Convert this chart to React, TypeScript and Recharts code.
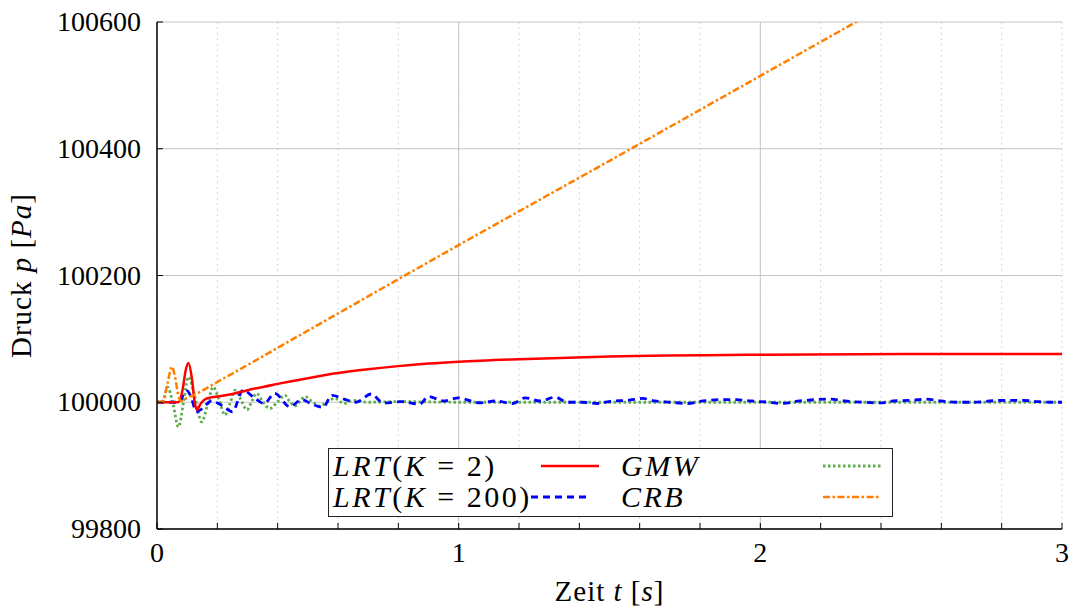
import React from "react";
import {
  CartesianGrid,
  Legend,
  Line,
  LineChart,
  ReferenceLine,
  XAxis,
  YAxis,
} from "recharts";

// x axis: ticks every 0.2 s, labels only on whole seconds
const xTicks = [0, 0.2, 0.4, 0.6, 0.8, 1, 1.2, 1.4, 1.6, 1.8, 2, 2.2, 2.4, 2.6, 2.8, 3];
const xMajor = [1, 2];
const yTicks = [99800, 100000, 100200, 100400, 100600];

// LRT(K = 2) — green dotted
const lrt2T = [0, 0.02, 0.035, 0.052, 0.071, 0.088, 0.104, 0.126, 0.148, 0.167, 0.186, 0.205, 0.225, 0.242, 0.259, 0.278, 0.298, 0.315, 0.33, 0.352, 0.374, 0.4, 0.424, 0.44, 0.457, 0.475, 0.49, 0.515, 0.54, 0.565, 0.59, 0.62, 0.65, 0.7, 0.8, 1.0, 1.5, 2.0, 2.5, 3.0];
const lrt2P = [100000, 100002, 100024, 100000, 99961, 100000, 100040, 100008, 99969, 99995, 100024, 100005, 99980, 99998, 100019, 100004, 99988, 100002, 100014, 100000, 99990, 100001, 100011, 100001, 99994, 100002, 100009, 100001, 99994, 100001, 100006, 99998, 100003, 100000, 100001, 100000, 100000, 100000, 100000, 100000];

// LRT(K = 200) — blue dashed
const lrt200T = [0, 0.075, 0.09, 0.1, 0.115, 0.13, 0.15, 0.18, 0.215, 0.25, 0.285, 0.32, 0.355, 0.39, 0.44, 0.48, 0.51, 0.55, 0.58, 0.62, 0.66, 0.71, 0.75, 0.81, 0.87, 0.9, 0.95, 1.0, 1.04, 1.07, 1.12, 1.18, 1.22, 1.27, 1.32, 1.36, 1.41, 1.46, 1.51, 1.56, 1.61, 1.65, 1.7, 1.76, 1.81, 1.86, 1.92, 1.97, 2.03, 2.07, 2.13, 2.18, 2.23, 2.28, 2.34, 2.4, 2.44, 2.5, 2.55, 2.6, 2.65, 2.71, 2.76, 2.81, 2.87, 2.92, 2.97, 3.0];
const lrt200P = [100000, 100000, 100015, 100018, 100005, 99985, 99990, 100002, 99995, 99985, 100019, 100008, 99998, 100014, 99993, 100004, 99998, 99992, 100011, 100005, 100000, 100013, 99999, 100001, 99997, 100009, 100002, 100007, 100002, 99999, 100002, 99998, 100007, 100002, 100008, 100000, 100000, 99998, 100002, 100003, 100006, 100002, 100000, 99998, 100002, 100004, 100004, 100002, 100000, 99998, 100002, 100004, 100005, 100002, 100000, 99999, 100002, 100003, 100005, 100002, 100000, 100000, 100002, 100003, 100003, 100001, 100000, 100000];

// GMW — red solid
const gmwT = [0, 0.07, 0.085, 0.095, 0.104, 0.115, 0.125, 0.132, 0.145, 0.164, 0.2, 0.25, 0.3, 0.4, 0.5, 0.6, 0.7, 0.8, 0.9, 1.0, 1.2, 1.5, 2.0, 2.5, 3.0];
const gmwP = [100000, 100000, 100020, 100050, 100062, 100040, 100000, 99988, 99998, 100006, 100009, 100013, 100019, 100029, 100038, 100046, 100052, 100057, 100061, 100064, 100068, 100072, 100075, 100076, 100076];

// CRB — orange dash-dot
const crbT = [0, 0.02, 0.035, 0.049, 0.06, 0.07, 0.08, 0.1, 0.12, 0.2, 0.5, 1.0, 1.5, 2.0, 2.5, 3.0];
const crbP = [100000, 100002, 100030, 100056, 100040, 100012, 100002, 100007, 100011, 100032, 100113, 100248, 100381, 100515, 100649, 100783];

const toPoints = (ts: number[], ps: number[]) => ts.map((t, i) => ({ t, p: ps[i] }));

const lrt2Data = toPoints(lrt2T, lrt2P);
const lrt200Data = toPoints(lrt200T, lrt200P);
const gmwData = toPoints(gmwT, gmwP);
const crbData = toPoints(crbT, crbP);

const FONT = '"Liberation Serif", "Times New Roman", serif';

const GREEN = "#5fae4d";
const BLUE = "#0000ff";
const RED = "#ff0000";
const ORANGE = "#ff8000";

const BottomTick = (props: any) => {
  const { x, y, payload } = props;
  const v = payload.value as number;
  const whole = Math.abs(v - Math.round(v)) < 1e-6;
  return (
    <g>
      <line x1={x} x2={x} y1={y} y2={y - 6} stroke="#000" strokeWidth={1} />
      {whole && (
        <text x={x} y={y + 33} textAnchor="middle" fontSize={28} fontFamily={FONT} fill="#000">
          {Math.round(v)}
        </text>
      )}
    </g>
  );
};

const TopTick = (props: any) => {
  const { x, y } = props;
  return <line x1={x} x2={x} y1={y} y2={y + 6} stroke="#000" strokeWidth={1} />;
};

const LeftTick = (props: any) => {
  const { x, y, payload } = props;
  return (
    <g>
      <line x1={x} x2={x + 6} y1={y} y2={y} stroke="#000" strokeWidth={1} />
      <text x={x - 16} y={y} dy="0.33em" textAnchor="end" fontSize={28} fontFamily={FONT} fill="#000">
        {payload.value}
      </text>
    </g>
  );
};

const RightTick = (props: any) => {
  const { x, y } = props;
  return <line x1={x} x2={x - 6} y1={y} y2={y} stroke="#000" strokeWidth={1} />;
};

const Sample = ({ color, dash, width }: { color: string; dash?: string; width: number }) => (
  <svg width={58} height={10} style={{ position: "absolute" }}>
    <line x1={0} x2={58} y1={5} y2={5} stroke={color} strokeWidth={width} strokeDasharray={dash} />
  </svg>
);

const LegendBox = () => {
  const row = (top: number): React.CSSProperties => ({
    position: "absolute",
    top,
    lineHeight: "30px",
    letterSpacing: 2.5,
  });
  return (
    <div
      style={{
        position: "relative",
        width: 565,
        height: 69,
        boxSizing: "border-box",
        border: "1.3px solid #222",
        background: "#fff",
        fontFamily: FONT,
        fontSize: 30,
        color: "#000",
        whiteSpace: "nowrap",
      }}
    >
      <div style={{ ...row(2), left: 4 }}>
        <i>LRT</i>(<i>K</i> = 2)
      </div>
      <div style={{ ...row(33), left: 4 }}>
        <i>LRT</i>(<i>K</i> = 200)
      </div>
      <div style={{ position: "absolute", left: 212, top: 12 }}>
        <Sample color={RED} width={2.5} />
      </div>
      <div style={{ position: "absolute", left: 202, top: 43 }}>
        <Sample color={BLUE} width={2.8} dash="7 5" />
      </div>
      <div style={{ ...row(2), left: 292 }}>
        <i>GMW</i>
      </div>
      <div style={{ ...row(33), left: 292 }}>
        <i>CRB</i>
      </div>
      <div style={{ position: "absolute", left: 494, top: 12 }}>
        <Sample color={GREEN} width={2.8} dash="2.5 2.5" />
      </div>
      <div style={{ position: "absolute", left: 494, top: 43 }}>
        <Sample color={ORANGE} width={2.5} dash="7 2.5 2.5 2.5" />
      </div>
    </div>
  );
};

const YTitle = (props: any) => {
  const { viewBox } = props;
  const cy = viewBox.y + viewBox.height / 2;
  const x = 31;
  return (
    <text
      x={x}
      y={cy}
      transform={`rotate(-90, ${x}, ${cy})`}
      textAnchor="middle"
      fontSize={29}
      letterSpacing={1}
      fontFamily={FONT}
      fill="#000"
    >
      Druck <tspan fontStyle="italic">p</tspan> [<tspan fontStyle="italic">Pa</tspan>]
    </text>
  );
};

const XTitle = (props: any) => {
  const { viewBox } = props;
  const cx = viewBox.x + viewBox.width / 2;
  return (
    <text x={cx} y={601} textAnchor="middle" fontSize={29} letterSpacing={1} fontFamily={FONT} fill="#000">
      Zeit <tspan fontStyle="italic">t</tspan> [<tspan fontStyle="italic">s</tspan>]
    </text>
  );
};

export default function App() {
  return (
    <div style={{ position: "absolute", left: 0, top: 0, width: 1075, height: 610, background: "#fff" }}>
      <LineChart width={1075} height={610} margin={{ top: 22, right: 13, left: 0, bottom: 0 }}>
        <CartesianGrid vertical={false} stroke="#c4c4c4" strokeWidth={1} />
        <CartesianGrid horizontal={false} stroke="#c8c8c8" strokeDasharray="1.5 4" strokeWidth={1} />
        {xMajor.map((v) => (
          <ReferenceLine key={v} x={v} stroke="#c4c4c4" strokeWidth={1} />
        ))}
        <XAxis
          dataKey="t"
          type="number"
          domain={[0, 3]}
          ticks={xTicks}
          allowDataOverflow
          interval={0}
          height={81}
          tickSize={0}
          tickMargin={0}
          tickLine={false}
          axisLine={{ stroke: "#000", strokeWidth: 1.5 }}
          tick={<BottomTick />}
          label={<XTitle />}
        />
        <XAxis
          xAxisId="top"
          orientation="top"
          dataKey="t"
          type="number"
          domain={[0, 3]}
          ticks={xTicks}
          allowDataOverflow
          interval={0}
          height={0}
          tickSize={0}
          tickMargin={0}
          tickLine={false}
          axisLine={{ stroke: "#000", strokeWidth: 1.5 }}
          tick={<TopTick />}
        />
        <YAxis
          type="number"
          domain={[99800, 100600]}
          ticks={yTicks}
          allowDataOverflow
          interval={0}
          width={157}
          tickSize={0}
          tickMargin={0}
          tickLine={false}
          axisLine={{ stroke: "#000", strokeWidth: 1.5 }}
          tick={<LeftTick />}
          label={<YTitle />}
        />
        <YAxis
          yAxisId="right"
          orientation="right"
          type="number"
          domain={[99800, 100600]}
          ticks={yTicks}
          allowDataOverflow
          interval={0}
          width={0}
          tickSize={0}
          tickMargin={0}
          tickLine={false}
          axisLine={{ stroke: "#000", strokeWidth: 1.5 }}
          tick={<RightTick />}
        />
        <Line
          data={lrt2Data}
          dataKey="p"
          type="monotone"
          stroke={GREEN}
          strokeWidth={2.8}
          strokeDasharray="2.5 2.5"
          dot={false}
          isAnimationActive={false}
        />
        <Line
          data={lrt200Data}
          dataKey="p"
          type="monotone"
          stroke={BLUE}
          strokeWidth={2.8}
          strokeDasharray="7 5"
          dot={false}
          isAnimationActive={false}
        />
        <Line
          data={gmwData}
          dataKey="p"
          type="monotone"
          stroke={RED}
          strokeWidth={2.5}
          dot={false}
          isAnimationActive={false}
        />
        <Line
          data={crbData}
          dataKey="p"
          type="monotone"
          stroke={ORANGE}
          strokeWidth={2.5}
          strokeDasharray="7 2.5 2.5 2.5"
          dot={false}
          isAnimationActive={false}
        />
        <Legend
          layout="horizontal"
          verticalAlign="middle"
          align="center"
          content={<LegendBox />}
          wrapperStyle={{ position: "absolute", left: 328, top: 448, width: 565, bottom: "auto" }}
        />
      </LineChart>
    </div>
  );
}
